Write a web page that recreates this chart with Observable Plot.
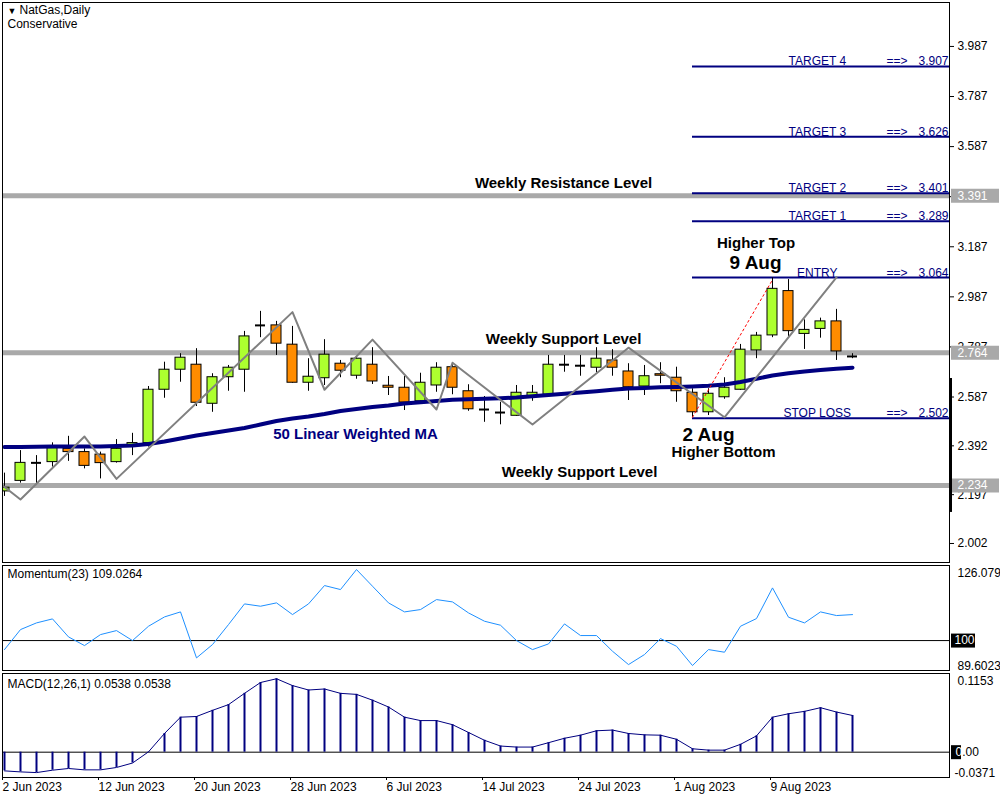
<!DOCTYPE html>
<html><head><meta charset="utf-8">
<script src="https://cdn.jsdelivr.net/npm/d3@7"></script>
<script src="https://cdn.jsdelivr.net/npm/@observablehq/plot@0.6"></script>
<style>
body{margin:0;background:#fff;}
#chart{position:relative;width:1000px;height:800px;}
#chart svg{position:absolute;left:0;}
</style></head><body><div id="chart"></div>
<script>
// ---------- DATA ----------
const dates = ["2 Jun","5 Jun","6 Jun","7 Jun","8 Jun","9 Jun","12 Jun","13 Jun","14 Jun","15 Jun","16 Jun","19 Jun","20 Jun","21 Jun","22 Jun","23 Jun","26 Jun","27 Jun","28 Jun","29 Jun","30 Jun","3 Jul","4 Jul","5 Jul","6 Jul","7 Jul","10 Jul","11 Jul","12 Jul","13 Jul","14 Jul","17 Jul","18 Jul","19 Jul","20 Jul","21 Jul","24 Jul","25 Jul","26 Jul","27 Jul","28 Jul","31 Jul","1 Aug","2 Aug","3 Aug","4 Aug","7 Aug","8 Aug","9 Aug","10 Aug","11 Aug","14 Aug","15 Aug","16 Aug"];
const opens  = [2.210,2.252,2.324,2.327,2.380,2.367,2.357,2.327,2.391,2.403,2.616,2.696,2.716,2.560,2.666,2.696,2.873,2.873,2.796,2.644,2.662,2.720,2.672,2.716,2.632,2.624,2.570,2.633,2.706,2.610,2.537,2.525,2.512,2.590,2.596,2.716,2.712,2.704,2.733,2.689,2.629,2.678,2.664,2.604,2.526,2.586,2.616,2.773,2.833,3.010,2.839,2.859,2.889,2.749];
const highs  = [2.283,2.373,2.353,2.404,2.430,2.380,2.367,2.417,2.442,2.629,2.726,2.760,2.780,2.680,2.713,2.849,2.929,2.889,2.869,2.740,2.816,2.733,2.749,2.784,2.669,2.669,2.682,2.724,2.722,2.636,2.589,2.566,2.633,2.633,2.753,2.753,2.753,2.784,2.776,2.720,2.713,2.724,2.706,2.620,2.620,2.664,2.797,2.845,3.063,3.056,2.895,2.902,2.937,2.760];
const lows   = [2.190,2.243,2.240,2.307,2.330,2.300,2.260,2.323,2.353,2.387,2.582,2.646,2.549,2.526,2.610,2.606,2.824,2.753,2.642,2.610,2.633,2.664,2.658,2.637,2.593,2.533,2.560,2.606,2.596,2.530,2.486,2.476,2.510,2.570,2.594,2.686,2.670,2.684,2.670,2.573,2.593,2.640,2.566,2.506,2.513,2.578,2.613,2.740,2.824,2.829,2.777,2.822,2.733,2.740];
const closes = [2.225,2.324,2.324,2.383,2.367,2.312,2.323,2.380,2.403,2.616,2.696,2.744,2.564,2.666,2.704,2.829,2.873,2.800,2.644,2.668,2.756,2.692,2.740,2.649,2.624,2.565,2.644,2.704,2.624,2.538,2.537,2.525,2.604,2.604,2.716,2.716,2.712,2.740,2.704,2.626,2.670,2.672,2.610,2.526,2.600,2.624,2.776,2.832,3.019,2.850,2.855,2.889,2.769,2.749];
const lwma50 = [2.387,2.387,2.388,2.389,2.389,2.389,2.389,2.391,2.393,2.399,2.409,2.421,2.433,2.443,2.453,2.463,2.477,2.491,2.501,2.509,2.519,2.531,2.539,2.547,2.553,2.561,2.566,2.571,2.576,2.578,2.580,2.582,2.585,2.590,2.595,2.600,2.605,2.610,2.616,2.621,2.623,2.626,2.627,2.629,2.632,2.637,2.647,2.660,2.673,2.682,2.689,2.695,2.700,2.704];
const zigzagBars   = [-1,1,5,7,18,20,23,27,28,33,39,45,52];
const zigzagPrices = [2.278,2.178,2.429,2.260,2.926,2.616,2.816,2.537,2.724,2.477,2.784,2.506,3.065];
const swingBars   = [43,48];
const swingPrices = [2.506,3.055];
const momentum = [96.87,103.82,106.14,107.53,101.27,98.26,102.08,103.47,100.0,104.98,108.22,109.96,93.98,98.61,105.56,112.74,111.93,113.09,109.03,112.74,119.11,117.72,124.67,118.88,113.09,109.96,110.77,114.24,113.43,109.61,106.72,105.33,100.0,96.87,98.84,105.79,101.74,101.74,96.29,91.66,95.14,100.69,98.03,91.32,96.87,95.95,104.98,107.64,118.30,108.11,106.14,109.96,108.69,109.0264];
const macd = [-0.0274,-0.0289,-0.0299,-0.0264,-0.0239,-0.0259,-0.0259,-0.0224,-0.0159,0.0005,0.0274,0.0513,0.0523,0.0613,0.0697,0.0862,0.1021,0.1076,0.0976,0.0911,0.0926,0.0862,0.0847,0.0762,0.0662,0.0513,0.0463,0.0463,0.0403,0.0289,0.0174,0.0090,0.0075,0.0075,0.0139,0.0204,0.0249,0.0314,0.0324,0.0274,0.0254,0.0249,0.0189,0.0050,0.0030,0.0030,0.0115,0.0239,0.0513,0.0563,0.0598,0.0652,0.0588,0.0538];
const macdSignal = macd.slice();
const priceTicks = [3.987,3.787,3.587,3.387,3.187,2.987,2.787,2.587,2.392,2.197,2.002];
const priceDomain = [1.9261,4.1625];
const levelValues = [3.391,2.764,2.234];
const targetNames  = ["TARGET 4","TARGET 3","TARGET 2","TARGET 1","ENTRY","STOP LOSS"];
const targetValues = [3.907,3.626,3.401,3.289,3.064,2.502];
const targetStartBar = 43;
const momDomain  = [89.6023,126.079];
const macdDomain = [-0.0371,0.1153];
const xTickBars   = [0,6,12,18,24,30,36,42,48];
const xTickLabels = ["2 Jun 2023","12 Jun 2023","20 Jun 2023","28 Jun 2023","6 Jul 2023","14 Jul 2023","24 Jul 2023","1 Aug 2023","9 Aug 2023"];
const scaleBar = [2.126,2.661];
const annotations = [
  {t:"Weekly Resistance Level", bar:34.94, p:3.440, kind:"level"},
  {t:"Weekly Support Level",    bar:34.94, p:2.817, kind:"level"},
  {t:"Weekly Support Level",    bar:35.94, p:2.286, kind:"level"},
  {t:"50 Linear Weighted MA",   bar:21.94, p:2.437, kind:"ma"},
  {t:"Higher Top",              bar:46.97, p:3.200, kind:"small"},
  {t:"9 Aug",                   bar:46.94, p:3.124, kind:"big"},
  {t:"2 Aug",                   bar:44.0,  p:2.437, kind:"big"},
  {t:"Higher Bottom",           bar:44.94, p:2.365, kind:"small"}
];

// ---------- BUILD ----------
const X0 = -0.125, X1 = 59.0625;
const FONT = "'Liberation Sans', Arial, sans-serif";
const NAVY = "#000080", GREEN = "#ADFF2F", ORANGE = "#FF8C00", GRAY = "#A9A9A9";
const candles = dates.map((d,i)=>({i, d, o:opens[i], h:highs[i], l:lows[i], c:closes[i], ma:lwma50[i]}));
const bulls = candles.filter(d=>d.c>d.o), bears = candles.filter(d=>d.c<d.o), dojis = candles.filter(d=>d.c===d.o);
const zz = zigzagBars.map((b,k)=>({b, p:zigzagPrices[k]}));
const swing = swingBars.map((b,k)=>({b, p:swingPrices[k]}));
const targets = targetNames.map((n,k)=>({n, v:targetValues[k]}));
const labelMap = new Map(xTickBars.map((b,k)=>[b, xTickLabels[k]]));
const style = {fontFamily:FONT, fontSize:"12px", background:"transparent", overflow:"visible", color:"black"};
const root = document.getElementById("chart");

const main = Plot.plot({
  width:1000, height:564, marginLeft:2, marginRight:51, marginTop:2, marginBottom:2, style,
  x:{domain:[X0,X1], axis:null},
  y:{domain:priceDomain},
  marks:[
    Plot.ruleY(levelValues, {stroke:GRAY, strokeWidth:5}),
    Plot.ruleY(targets, {y:"v", x1:()=>targetStartBar, x2:()=>X1, stroke:NAVY, strokeWidth:2}),
    Plot.ruleX(candles, {x:"i", y1:"l", y2:"h", stroke:"black", strokeWidth:1, clip:true}),
    Plot.rect(bulls, {x1:d=>d.i-0.5, x2:d=>d.i+0.5, y1:"o", y2:"c", insetLeft:3, insetRight:3, fill:GREEN, stroke:"black", clip:true}),
    Plot.rect(bears, {x1:d=>d.i-0.5, x2:d=>d.i+0.5, y1:"o", y2:"c", insetLeft:3, insetRight:3, fill:ORANGE, stroke:"black", clip:true}),
    Plot.ruleY(dojis, {y:"c", x1:d=>d.i-0.3125, x2:d=>d.i+0.3125, stroke:"black", strokeWidth:2}),
    Plot.line(candles, {x:"i", y:"ma", stroke:NAVY, strokeWidth:4, clip:true}),
    Plot.line(zz, {x:"b", y:"p", stroke:"#808080", strokeWidth:2, clip:true}),
    Plot.line(swing, {x:"b", y:"p", stroke:"red", strokeWidth:1, strokeDasharray:"2,3"}),
    Plot.frame({stroke:"black"}),
    Plot.axisY({anchor:"right", ticks:priceTicks, tickFormat:d3.format(".3f"), tickSize:4, tickPadding:4, fontSize:12, label:null}),
    Plot.ruleY(levelValues, {stroke:GRAY, strokeWidth:14, insetLeft:949, insetRight:-50}),
    Plot.text(levelValues, {y:d=>d, text:d=>d3.format(".3f")(d), frameAnchor:"right", textAnchor:"start", dx:8, fill:"white", fontSize:12}),
    Plot.ruleX([X1], {y1:()=>scaleBar[0], y2:()=>scaleBar[1], stroke:"black", strokeWidth:3, dx:1}),
    Plot.text(targets, {x:()=>50.8, y:"v", text:"n", fill:NAVY, fontSize:12, lineAnchor:"bottom", dy:-1}),
    Plot.text(targets, {y:"v", text:()=>"==>", frameAnchor:"right", textAnchor:"end", dx:-42, fill:NAVY, fontSize:12, letterSpacing:1, lineAnchor:"bottom", dy:-1}),
    Plot.text(targets, {y:"v", text:d=>d3.format(".3f")(d.v), frameAnchor:"right", textAnchor:"end", dx:-1, fill:NAVY, fontSize:12, lineAnchor:"bottom", dy:-1}),
    Plot.text(annotations.filter(a=>a.kind==="level"), {x:"bar", y:"p", text:"t", fontSize:15, fontWeight:"bold", fill:"black"}),
    Plot.text(annotations.filter(a=>a.kind==="ma"), {x:"bar", y:"p", text:"t", fontSize:15, fontWeight:"bold", fill:NAVY}),
    Plot.text(annotations.filter(a=>a.kind==="small"), {x:"bar", y:"p", text:"t", fontSize:15, fontWeight:"bold", fill:"black"}),
    Plot.text(annotations.filter(a=>a.kind==="big"), {x:"bar", y:"p", text:"t", fontSize:19, fontWeight:"bold", fill:"black"}),
    Plot.text(["▼"], {frameAnchor:"top-left", dx:5, dy:5, fontSize:9, lineAnchor:"top", fill:"black"}),
    Plot.text(["NatGas,Daily"], {frameAnchor:"top-left", dx:17, dy:3, fontSize:12, lineAnchor:"top", fill:"black"}),
    Plot.text(["Conservative"], {frameAnchor:"top-left", dx:5, dy:17, fontSize:12, lineAnchor:"top", fill:"black"})
  ]
});
main.style.top = "0px";
root.appendChild(main);

const momData = momentum.map((v,i)=>({i, v}));
const mom = Plot.plot({
  width:1000, height:109, marginLeft:2, marginRight:51, marginTop:2, marginBottom:2, style,
  x:{domain:[X0,X1], axis:null},
  y:{domain:momDomain, axis:null},
  marks:[
    Plot.ruleY([100], {stroke:"black"}),
    Plot.line(momData, {x:"i", y:"v", stroke:"#1E90FF", strokeWidth:1}),
    Plot.frame({stroke:"black"}),
    Plot.text([`Momentum(23) ${momentum[momentum.length-1]}`], {frameAnchor:"top-left", dx:5, dy:4, lineAnchor:"top", fontSize:12, fill:"black"}),
    Plot.text([String(momDomain[1])], {frameAnchor:"top-right", textAnchor:"start", dx:8, dy:3, lineAnchor:"top", fontSize:12, fill:"black"}),
    Plot.text([String(momDomain[0])], {frameAnchor:"bottom-right", textAnchor:"start", dx:8, dy:-1, lineAnchor:"bottom", fontSize:12, fill:"black"}),
    Plot.ruleY([100], {stroke:"black", strokeWidth:14, insetLeft:949, insetRight:-26}),
    Plot.text([100], {y:d=>d, text:d=>String(d), frameAnchor:"right", textAnchor:"start", dx:5, fill:"white", fontSize:12})
  ]
});
mom.style.top = "563px";
root.appendChild(mom);

const macdData = macd.map((v,i)=>({i, v, s:macdSignal[i]}));
const mc = Plot.plot({
  width:1000, height:129, marginLeft:2, marginRight:51, marginTop:2, marginBottom:23, style,
  x:{domain:[X0,X1]},
  y:{domain:macdDomain, axis:null},
  marks:[
    Plot.ruleY([0], {stroke:"black"}),
    Plot.ruleX(macdData, {x:"i", y1:()=>0, y2:"v", stroke:NAVY, strokeWidth:2}),
    Plot.line(macdData, {x:"i", y:"s", stroke:NAVY, strokeWidth:1}),
    Plot.frame({stroke:"black"}),
    Plot.axisX({ticks:xTickBars, tickFormat:d=>labelMap.get(d), textAnchor:"start", tickSize:3, tickPadding:2, dx:-2, fontSize:12, label:null}),
    Plot.text([`MACD(12,26,1) ${macd[macd.length-1]} ${macdSignal[macdSignal.length-1]}`], {frameAnchor:"top-left", dx:5, dy:6, lineAnchor:"top", fontSize:12, fill:"black"}),
    Plot.text([String(macdDomain[1])], {frameAnchor:"top-right", textAnchor:"start", dx:8, dy:3, lineAnchor:"top", fontSize:12, fill:"black"}),
    Plot.text([String(macdDomain[0])], {frameAnchor:"bottom-right", textAnchor:"start", dx:5, dy:-1, lineAnchor:"bottom", fontSize:12, fill:"black"}),
    Plot.ruleY([0], {stroke:"black", strokeWidth:14, insetLeft:949, insetRight:-12}),
    Plot.text([0], {y:d=>d, text:()=>"0", frameAnchor:"right", textAnchor:"start", dx:6, fill:"white", fontSize:12}),
    Plot.text([0], {y:d=>d, text:()=>".00", frameAnchor:"right", textAnchor:"start", dx:12.7, fill:"black", fontSize:12})
  ]
});
mc.style.top = "671px";
root.appendChild(mc);
</script></body></html>
